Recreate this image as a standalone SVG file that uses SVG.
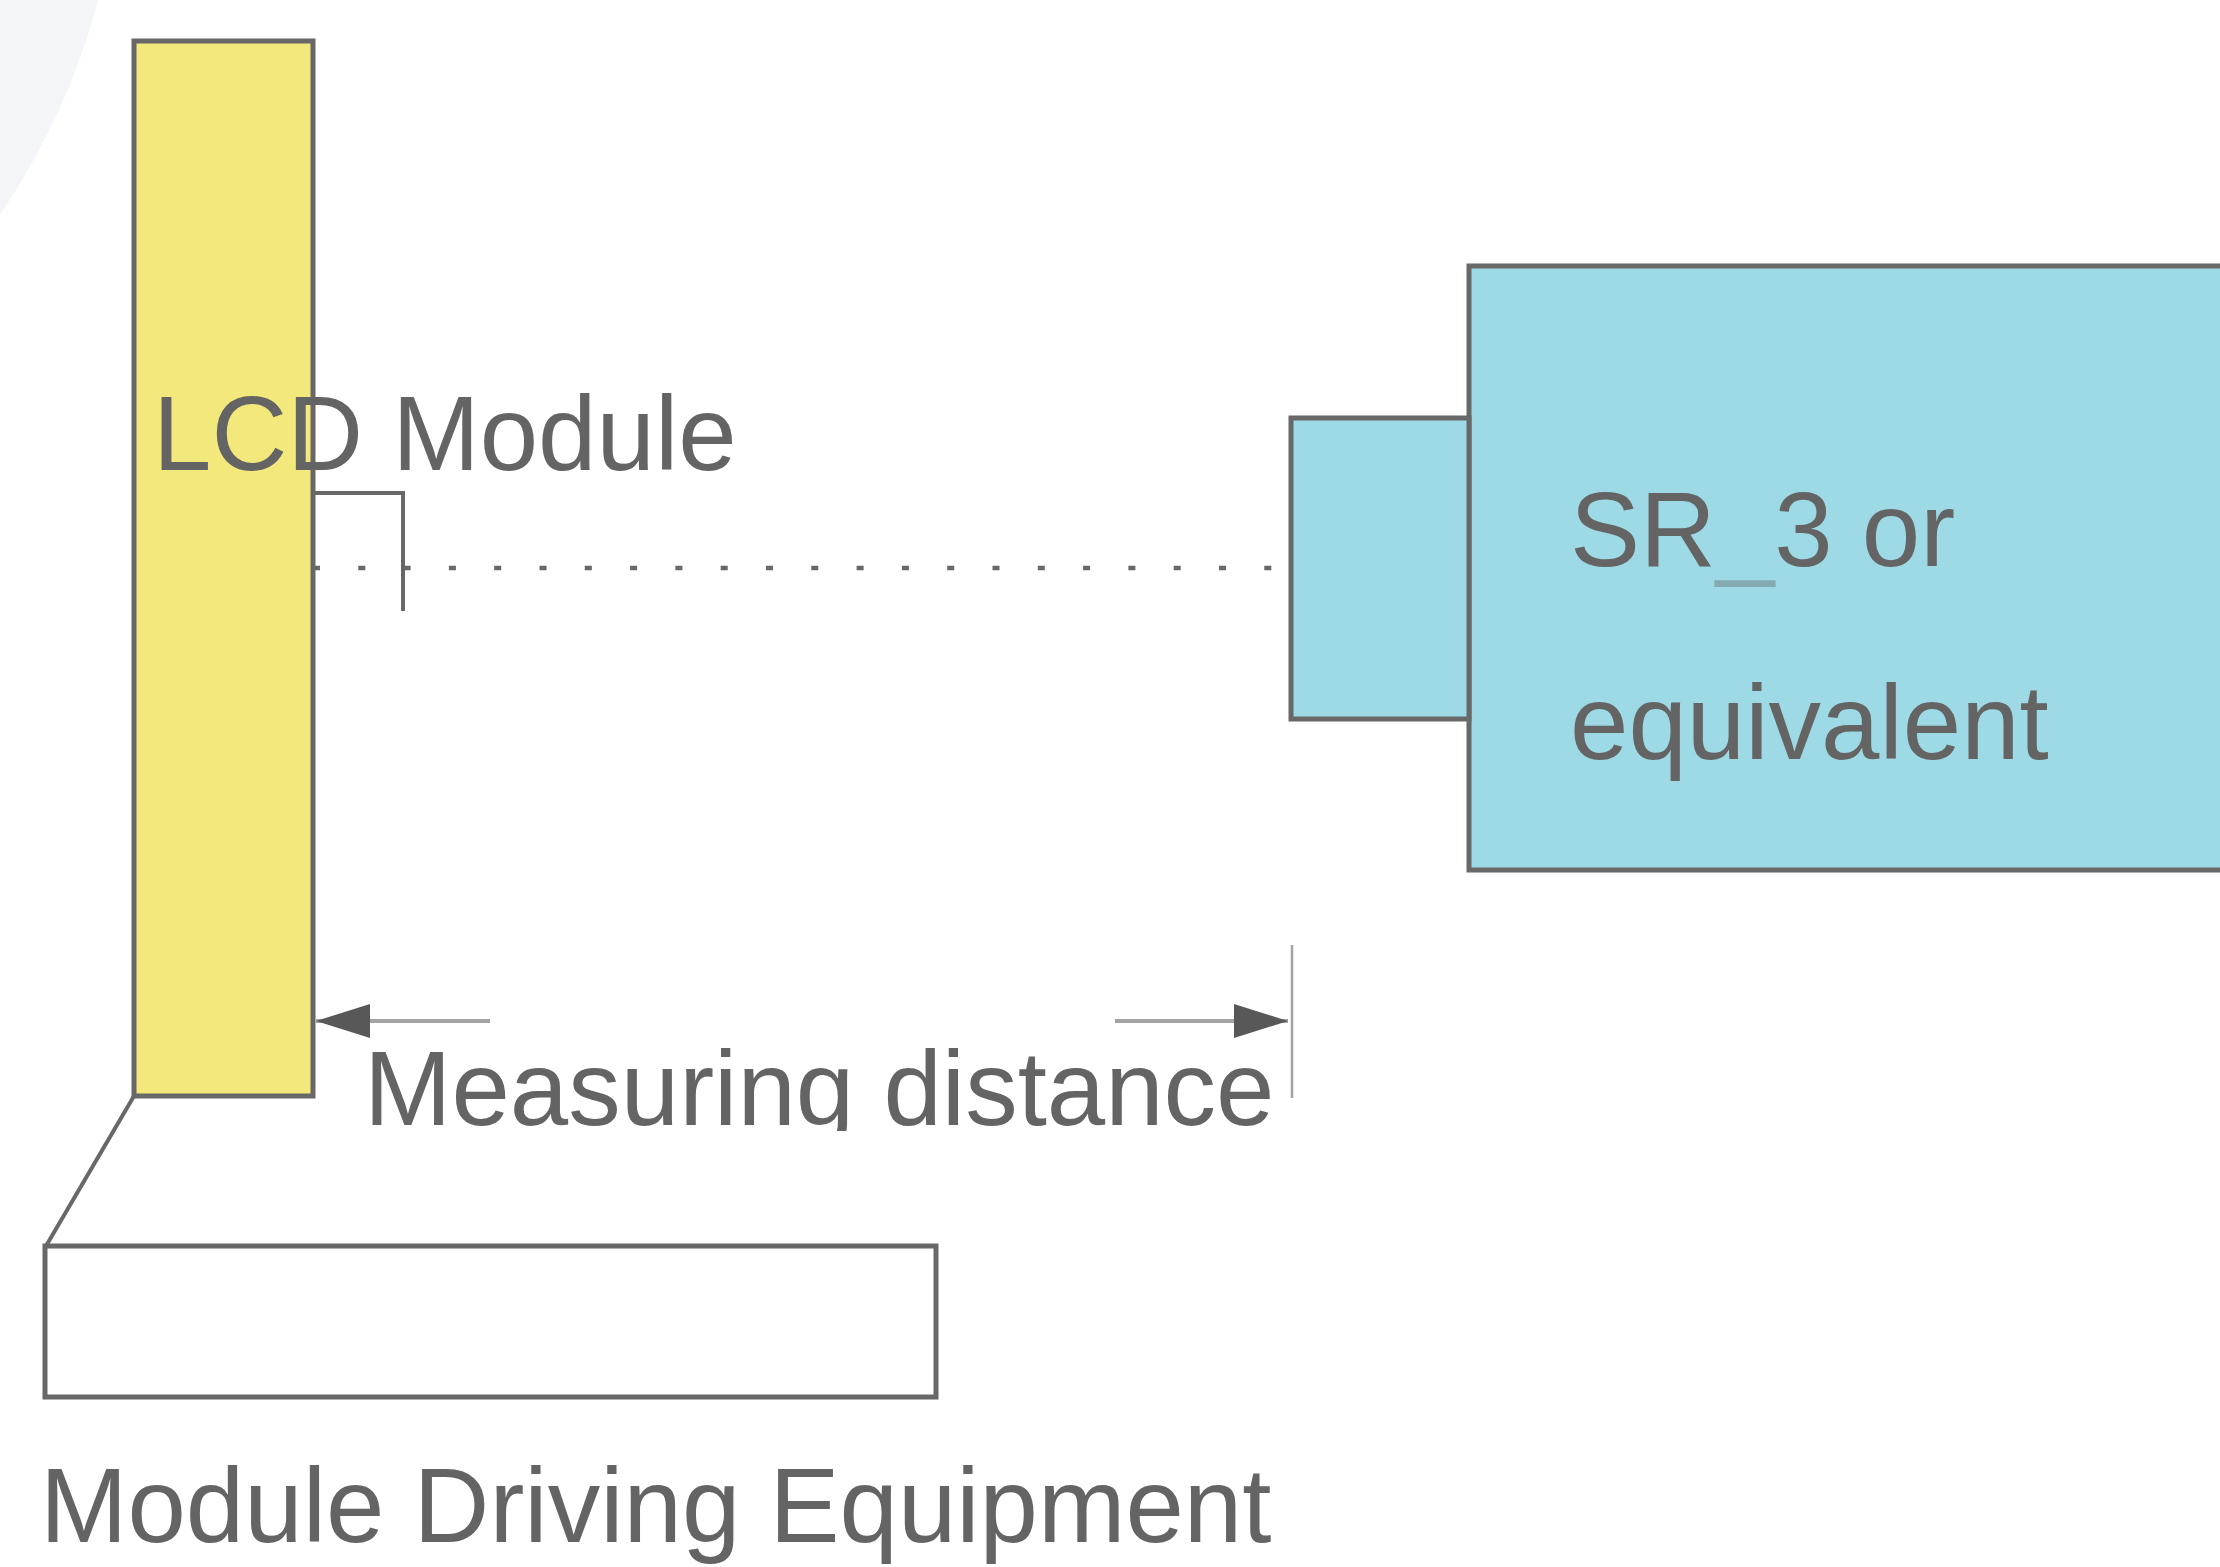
<svg xmlns="http://www.w3.org/2000/svg" width="2220" height="1567" viewBox="0 0 2220 1567">
  <style>
    .shape { stroke: #686868; stroke-width: 5; }
    .lbl { font-family: "Liberation Sans", Arial, sans-serif; font-size: 105px; fill: #646464; }
    .thin { stroke: #686868; stroke-width: 4; fill: none; }
    .dim { stroke: #a3a3a3; stroke-width: 4; fill: none; }
  </style>
  <defs>
    <marker id="ah" viewBox="0 0 54 34" refX="54" refY="17" markerWidth="54" markerHeight="34" markerUnits="userSpaceOnUse" orient="auto">
      <path d="M0,0 L54,17 L0,34 Z" fill="#585858"/>
    </marker>
    <clipPath id="clipMeas">
      <rect x="300" y="900" width="1100" height="231"/>
    </clipPath>
  </defs>
  <rect x="0" y="0" width="2220" height="1567" fill="#ffffff"/>
  <path d="M0,0 L98,0 Q70,110 0,215 Z" fill="#f4f5f9"/>

  <g id="lcd-module">
    <rect class="shape" x="134" y="41" width="179" height="1055" fill="#f3e87b"/>
  </g>

  <g id="measuring-device">
    <rect class="shape" x="1469" y="266" width="780" height="604" fill="#9ddae5"/>
    <rect class="shape" x="1291" y="418" width="178" height="301" fill="#9ddae5"/>
    <text class="lbl" x="1570" y="566">SR<tspan fill="#86aab2">_</tspan>3 or</text>
    <text class="lbl" x="1570" y="759">equivalent</text>
  </g>

  <g id="driving-equipment">
    <rect class="shape" x="45" y="1246" width="891" height="151" fill="#ffffff"/>
    <text class="lbl" x="40" y="1542">Module Driving Equipment</text>
  </g>

  <g id="connectors">
    <line class="thin" x1="134" y1="1096" x2="46" y2="1246"/>
    <line x1="313" y1="568" x2="1275" y2="568" stroke="#686868" stroke-width="4.5" stroke-dasharray="7 38.3"/>
    <polyline class="thin" points="313,493 403,493 403,611"/>
    <line class="dim" x1="490" y1="1021" x2="316" y2="1021" marker-end="url(#ah)"/>
    <line class="dim" x1="1115" y1="1021" x2="1288" y2="1021" marker-end="url(#ah)"/>
    <line x1="1292" y1="945" x2="1292" y2="1098" stroke="#a3a3a3" stroke-width="2.5"/>
  </g>

  <text class="lbl" x="153" y="470">LCD Module</text>
  <text class="lbl" x="364" y="1125" clip-path="url(#clipMeas)">Measuring distance</text>
</svg>
